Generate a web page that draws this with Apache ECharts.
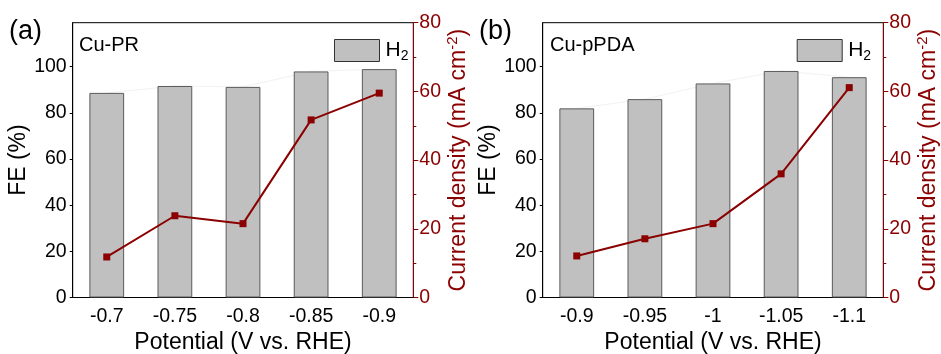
<!DOCTYPE html>
<html>
<head>
<meta charset="utf-8">
<script src="https://cdn.jsdelivr.net/npm/echarts@6/dist/echarts.min.js"></script>
<style>
  html, body { margin: 0; padding: 0; background: #fff; }
  #chart { width: 941px; height: 354px; }
</style>
</head>
<body>
<div id="chart"></div>
<script>
// Panel (a): Cu-PR
const categoriesA = ['-0.7', '-0.75', '-0.8', '-0.85', '-0.9'];
const feA = [88.6, 91.6, 91.2, 97.9, 98.9];
const currentA = [11.8, 23.8, 21.5, 51.7, 59.5];

// Panel (b): Cu-pPDA
const categoriesB = ['-0.9', '-0.95', '-1', '-1.05', '-1.1'];
const feB = [81.9, 85.9, 92.7, 98.1, 95.4];
const currentB = [12.1, 17.1, 21.5, 36.0, 61.1];

// Tick labels
const feTicks = [0, 20, 40, 60, 80, 100];
const currentTicks = [0, 20, 40, 60, 80];

const FONT = '"Liberation Sans", Arial, sans-serif';
const RED = '#8B0000';
const BAR = '#C0C0C0';

const chart = echarts.init(document.getElementById('chart'), null, { renderer: 'canvas' });

function grid(left, right) {
  return { left: left, right: right, top: 22.7, bottom: 56.5, show: true,
           outerBoundsMode: 'none', containLabel: false,
           borderColor: '#000', borderWidth: 1, backgroundColor: 'transparent' };
}

function xAxis(idx, cats) {
  return {
    type: 'category', gridIndex: idx, data: cats, boundaryGap: true,
    name: 'Potential (V vs. RHE)', nameLocation: 'middle', nameGap: 30,
    nameTextStyle: { fontFamily: FONT, fontSize: 23, color: '#000' },
    axisLine: { lineStyle: { color: '#000', width: 1 } },
    axisTick: { alignWithLabel: true, length: 4, lineStyle: { color: '#000' } },
    axisLabel: { fontFamily: FONT, fontSize: 19.5, color: '#000', margin: 9 },
    splitLine: { show: false }
  };
}

function feAxis(idx) {
  return {
    type: 'value', gridIndex: idx, position: 'left', min: 0, max: 119,
    name: 'FE (%)', nameLocation: 'middle', nameGap: 30,
    nameTextStyle: { fontFamily: FONT, fontSize: 23, color: '#000' },
    axisLine: { show: true, lineStyle: { color: '#000', width: 1 } },
    axisTick: { show: true, length: 3, customValues: feTicks, lineStyle: { color: '#000' } },
    axisLabel: { fontFamily: FONT, fontSize: 19.5, color: '#000', margin: 6, customValues: feTicks },
    splitLine: { show: false }
  };
}

function currentAxis(idx) {
  return {
    type: 'value', gridIndex: idx, position: 'right', min: 0, max: 80, interval: 20,
    name: 'Current density (mA cm{sup|-2})', nameLocation: 'middle', nameGap: 29,
    nameTextStyle: {
      fontFamily: FONT, fontSize: 23, color: RED,
      rich: { sup: { fontFamily: FONT, fontSize: 15, color: RED, verticalAlign: 'top', lineHeight: 28 } }
    },
    axisLine: { show: true, lineStyle: { color: RED, width: 1 } },
    axisTick: { show: true, length: 5, lineStyle: { color: RED } },
    minorTick: { show: true, splitNumber: 2, length: 3, lineStyle: { color: RED } },
    axisLabel: { fontFamily: FONT, fontSize: 19.5, color: RED, margin: 6 },
    splitLine: { show: false }
  };
}

function seriesFor(idx, fe, current) {
  return [
    {
      // faint guide joining the bar tops, drawn beneath the bars
      type: 'line', xAxisIndex: idx, yAxisIndex: idx * 2, data: fe,
      symbol: 'none', silent: true, z: 1,
      lineStyle: { color: '#f2f2f2', width: 1 }
    },
    {
      name: 'H2', type: 'bar', xAxisIndex: idx, yAxisIndex: idx * 2, data: fe,
      barWidth: '51%', z: 2,
      itemStyle: { color: BAR, borderColor: '#5a5a5a', borderWidth: 1 }
    },
    {
      type: 'line', xAxisIndex: idx, yAxisIndex: idx * 2 + 1, data: current,
      symbol: 'rect', symbolSize: 7, z: 5,
      lineStyle: { color: RED, width: 2 },
      itemStyle: { color: RED }
    }
  ];
}

function legend(idx, left) {
  return {
    show: true, left: left, top: 34, orient: 'vertical',
    itemWidth: 45, itemHeight: 22, itemGap: 0,
    data: [{ name: 'H2', icon: 'rect' }],
    itemStyle: { color: BAR, borderColor: '#333', borderWidth: 1 },
    formatter: () => 'H{sub|2}',
    textStyle: {
      fontFamily: FONT, fontSize: 21, color: '#000', padding: [0, 0, 0, 1],
      rich: { sub: { fontFamily: FONT, fontSize: 14, color: '#000', verticalAlign: 'bottom', padding: [12, 0, 0, 0] } }
    }
  };
}

const option = {
  animation: false,
  backgroundColor: '#fff',
  grid: [grid(72.7, 527.7), grid(542.7, 57.7)],
  xAxis: [xAxis(0, categoriesA), xAxis(1, categoriesB)],
  yAxis: [feAxis(0), currentAxis(0), feAxis(1), currentAxis(1)],
  legend: [legend(0, 329), legend(1, 791.7)],
  series: [].concat(seriesFor(0, feA, currentA), seriesFor(1, feB, currentB)),
  graphic: [
    { type: 'text', left: 9, top: 18, style: { text: '(a)', font: '27px ' + FONT, fill: '#000' } },
    { type: 'text', left: 479, top: 18, style: { text: '(b)', font: '27px ' + FONT, fill: '#000' } },
    { type: 'text', left: 79, top: 35, style: { text: 'Cu-PR', font: '20px ' + FONT, fill: '#000' } },
    { type: 'text', left: 550, top: 35, style: { text: 'Cu-pPDA', font: '20px ' + FONT, fill: '#000' } }
  ]
};

chart.setOption(option);
</script>
</body>
</html>
